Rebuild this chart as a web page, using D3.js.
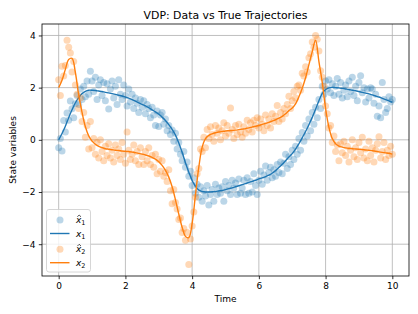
<!DOCTYPE html>
<html>
<head>
<meta charset="utf-8">
<script src="https://cdn.jsdelivr.net/npm/d3@7"></script>
<style>
  body { margin: 0; background: #fff; }
  svg { display: block; font-family: "DejaVu Sans", sans-serif; }
</style>
</head>
<body>
<div id="chart"></div>
<script>
// sampled observations, one every 0.05 time units (t = 0 .. 10)
const dtData = 0.05;
const x1Data = [
  -0.30, 0.05, -0.43, 0.74, 0.30, 1.03, 0.75, 1.49, 1.19, 0.85,
  1.38, 1.70, 1.35, 1.95, 1.55, 2.05, 1.65, 2.25, 1.75, 2.63,
  2.25, 1.85, 2.40, 1.55, 2.10, 2.30, 1.70, 2.20, 1.50, 2.15,
  1.18, 1.95, 2.25, 1.60, 2.05, 1.35, 2.30, 1.75, 1.55, 2.10,
  1.70, 1.30, 1.95, 1.45, 1.75, 1.20, 1.60, 1.40, 1.05, 1.55,
  1.25, 1.50, 1.00, 1.35, 1.20, 0.85, 1.25, 0.95, 0.55, 1.10,
  0.51, 0.95, 1.05, 0.60, 0.80, 0.35, 0.55, 0.20, 0.38, -0.05,
  0.25, -0.35, -0.10, -0.55, -0.80, -0.45, -1.05, -0.85, -1.40, -1.20,
  -1.75, -1.45, -2.05, -1.70, -2.20, -1.80, -2.35, -1.95, -2.15, -1.75,
  -2.50, -2.10, -1.90, -2.35, -1.70, -2.10, -1.85, -2.05, -1.80, -2.35,
  -1.60, -1.95, -1.75, -2.10, -1.55, -1.85, -1.65, -2.10, -1.50, -2.05,
  -1.85, -1.55, -2.10, -1.45, -2.05, -1.60, -2.00, -1.30, -1.75, -2.10,
  -1.55, -1.20, -1.70, -1.35, -1.00, -1.55, -1.25, -1.05, -1.45, -1.15,
  -1.40, -0.95, -1.25, -0.85, -1.30, -0.90, -0.55, -1.10, -0.65, -0.95,
  -0.40, -0.75, -0.25, -0.55, 0.05, -0.40, 0.28, -0.05, 0.55, 0.15,
  0.80, 0.35, 1.05, 0.60, 1.25, 0.85, 1.55, 1.20, 2.05, 1.75,
  2.25, 1.95, 2.30, 1.80, 2.15, 1.70, 2.05, 2.35, 1.75, 2.20,
  1.60, 1.90, 2.10, 1.65, 2.25, 1.85, 2.40, 1.70, 2.05, 1.50,
  2.20, 2.46, 1.80, 2.00, 1.45, 1.95, 1.60, 2.00, 1.95, 1.40,
  1.75, 0.90, 1.30, 0.85, 2.20, 1.55, 1.05, 1.20, 1.65, 1.45,
  1.55
];
const x2Data = [
  2.30, 1.70, 2.82, 2.45, 2.85, 3.82, 3.55, 3.33, 2.60, 3.00,
  2.10, 1.75, 1.20, 1.60, 0.70, 1.05, 0.10, 0.55, -0.35, 0.70,
  -0.30, 0.05, -0.55, -0.10, -0.70, 0.00, -0.45, -0.80, -0.25, -0.60,
  -0.15, -0.70, -0.40, -0.85, -0.20, -0.60, -0.35, -0.75, -0.10, -0.55,
  -0.90, 0.30, -0.40, -0.75, -0.55, -0.20, -0.80, -0.45, -0.95, -0.30,
  -0.65, -0.95, -0.45, -0.80, -0.30, -0.95, -0.60, -1.05, -0.55, -1.30,
  -0.75, -1.20, -0.80, -1.40, -1.25, -1.60, -1.15, -1.95, -2.45, -1.90,
  -2.40, -2.65, -3.05, -3.00, -3.55, -3.40, -3.85, -3.55, -4.78, -3.80,
  -3.30, -2.77, -2.20, -1.30, -1.10, -0.35, -0.45, 0.10, -0.30, 0.40,
  0.05, 0.50, 0.20, -0.05, 0.55, 0.25, 0.45, 0.00, 0.35, 0.65,
  0.15, 0.55, 0.25, 1.22, 0.40, 0.05, 0.55, 0.20, 0.60, 0.30,
  0.10, 0.50, 0.25, 0.75, 0.40, 0.65, 0.30, 0.75, 0.55, 0.85,
  0.45, 0.80, 0.60, 0.35, 0.95, 0.55, 0.80, 0.45, 1.00, 0.70,
  0.90, 1.32, 0.70, 1.05, 0.80, 1.20, 1.00, 1.35, 1.67, 1.20,
  1.50, 1.85, 1.60, 2.05, 2.10, 1.90, 2.55, 2.45, 2.80, 2.60,
  3.15, 3.30, 3.75, 3.55, 4.00, 3.85, 3.40, 2.65, 2.40, 2.05,
  1.30, 1.00, 0.45, 0.55, -0.10, 0.15, -0.45, -0.20, -0.80, -0.15,
  -0.50, -0.05, -0.60, -0.25, -0.85, -0.40, 0.00, -0.65, -0.30, -0.75,
  -0.10, -0.50, 0.10, -0.70, -0.35, -0.80, -0.05, -0.60, -0.30, -0.85,
  -0.40, -0.15, 0.12, -0.70, -0.45, -0.10, -0.75, -0.40, -0.60, -0.25,
  -0.55
];

// true trajectories, one value every 0.1 time units
const dtTrue = 0.1;
const x1True = [
  0.00, 0.24, 0.52, 0.85, 1.15, 1.42, 1.62, 1.77, 1.86, 1.90,
  1.90, 1.89, 1.87, 1.85, 1.82, 1.80, 1.77, 1.74, 1.71, 1.68,
  1.64, 1.60, 1.54, 1.48, 1.42, 1.36, 1.30, 1.23, 1.15, 1.07,
  0.98, 0.87, 0.74, 0.58, 0.40, 0.18, -0.12, -0.48, -0.88, -1.24,
  -1.56, -1.78, -1.93, -1.98, -2.00, -2.00, -1.99, -1.98, -1.96, -1.94,
  -1.91, -1.87, -1.84, -1.80, -1.76, -1.72, -1.68, -1.63, -1.59, -1.55,
  -1.50, -1.46, -1.41, -1.35, -1.28, -1.18, -1.06, -0.94, -0.80, -0.66,
  -0.53, -0.36, -0.15, 0.08, 0.32, 0.58, 0.86, 1.17, 1.50, 1.78,
  1.93, 1.99, 2.01, 2.00, 1.99, 1.97, 1.95, 1.93, 1.90, 1.88,
  1.85, 1.82, 1.79, 1.76, 1.72, 1.68, 1.64, 1.59, 1.54, 1.49,
  1.44
];
const x2True = [
  2.00, 2.28, 2.70, 3.08, 3.12, 2.58, 1.72, 1.05, 0.50, 0.15,
  -0.05, -0.17, -0.25, -0.30, -0.34, -0.36, -0.38, -0.40, -0.41, -0.43,
  -0.44, -0.45, -0.47, -0.49, -0.52, -0.55, -0.58, -0.62, -0.67, -0.74,
  -0.84, -0.98, -1.17, -1.43, -1.80, -2.30, -2.85, -3.35, -3.70, -3.75,
  -3.20, -2.10, -1.05, -0.28, 0.05, 0.17, 0.23, 0.27, 0.30, 0.32,
  0.34, 0.35, 0.36, 0.37, 0.39, 0.41, 0.43, 0.46, 0.49, 0.52,
  0.55, 0.59, 0.63, 0.67, 0.72, 0.77, 0.83, 0.90, 1.00, 1.12,
  1.22, 1.38, 1.65, 1.98, 2.38, 2.88, 3.38, 3.82, 3.00, 2.20,
  1.20, 0.48, 0.05, -0.15, -0.24, -0.28, -0.31, -0.33, -0.34, -0.35,
  -0.36, -0.37, -0.39, -0.40, -0.42, -0.44, -0.46, -0.48, -0.50, -0.52,
  -0.55
];

const xTicks = [0, 2, 4, 6, 8, 10];
const yTicks = [-4, -2, 0, 2, 4];
const chartTitle = "VDP: Data vs True Trajectories";

(() => {
  const width = 418, height = 314;
  const margin = {top: 24, right: 9, bottom: 38, left: 42};
  const blue = "#1f77b4", orange = "#ff7f0e";

  const svg = d3.select("#chart").append("svg")
    .attr("width", width)
    .attr("height", height);

  // turn value arrays into [t, v] pairs
  const withTime = (vals, dt) => vals.map((v, i) => [i * dt, v]);
  const obs1 = withTime(x1Data, dtData), obs2 = withTime(x2Data, dtData);
  const true1 = withTime(x1True, dtTrue), true2 = withTime(x2True, dtTrue);

  // matplotlib style 5% margins around the data
  const pad = ([a, b]) => [a - (b - a) * 0.05, b + (b - a) * 0.05];
  const allY = x1Data.concat(x2Data, x1True, x2True);
  const x = d3.scaleLinear().domain(pad([0, 10]))
    .range([margin.left, width - margin.right]);
  const y = d3.scaleLinear().domain(pad(d3.extent(allY)))
    .range([height - margin.bottom, margin.top]);

  // grid
  const grid = svg.append("g").attr("stroke", "#b0b0b0").attr("stroke-width", 0.8);
  grid.selectAll(".gx").data(xTicks).join("line")
    .attr("x1", d => x(d)).attr("x2", d => x(d))
    .attr("y1", margin.top).attr("y2", height - margin.bottom);
  grid.selectAll(".gy").data(yTicks).join("line")
    .attr("x1", margin.left).attr("x2", width - margin.right)
    .attr("y1", d => y(d)).attr("y2", d => y(d));

  // scatter of observations
  const drawDots = (data, color) => svg.append("g")
    .selectAll("circle").data(data).join("circle")
    .attr("cx", d => x(d[0]))
    .attr("cy", d => y(d[1]))
    .attr("r", 3.5)
    .attr("fill", color)
    .attr("fill-opacity", 0.3);
  drawDots(obs1, blue);

  const line = d3.line()
    .x(d => x(d[0])).y(d => y(d[1]))
    .curve(d3.curveCatmullRom.alpha(0.5));
  svg.append("path").datum(true1)
    .attr("d", line).attr("fill", "none")
    .attr("stroke", blue).attr("stroke-width", 1.4);

  drawDots(obs2, orange);
  svg.append("path").datum(true2)
    .attr("d", line).attr("fill", "none")
    .attr("stroke", orange).attr("stroke-width", 1.4);

  // axes
  const xAxis = svg.append("g")
    .attr("transform", `translate(0,${height - margin.bottom})`)
    .call(d3.axisBottom(x).tickValues(xTicks).tickSize(3.2).tickPadding(3.2));
  const yAxis = svg.append("g")
    .attr("transform", `translate(${margin.left},0)`)
    .call(d3.axisLeft(y).tickValues(yTicks).tickSize(3.2).tickPadding(3.2));
  [xAxis, yAxis].forEach(a => {
    a.select(".domain").remove();
    a.selectAll("line").attr("stroke", "#000").attr("stroke-width", 0.8);
    a.selectAll("text").attr("fill", "#000")
      .style("font-family", "DejaVu Sans").style("font-size", "9px");
  });

  // frame
  svg.append("rect")
    .attr("x", margin.left).attr("y", margin.top)
    .attr("width", width - margin.left - margin.right)
    .attr("height", height - margin.top - margin.bottom)
    .attr("fill", "none").attr("stroke", "#000").attr("stroke-width", 0.8);

  // titles
  svg.append("text")
    .attr("x", (margin.left + width - margin.right) / 2).attr("y", 18.5)
    .attr("text-anchor", "middle").style("font-size", "10.9px")
    .text(chartTitle);
  svg.append("text")
    .attr("x", (margin.left + width - margin.right) / 2).attr("y", 301.5)
    .attr("text-anchor", "middle").style("font-size", "9px")
    .text("Time");
  svg.append("text")
    .attr("transform", `translate(16,${(margin.top + height - margin.bottom) / 2}) rotate(-90)`)
    .attr("text-anchor", "middle").style("font-size", "9px")
    .text("State variables");

  // legend
  const legendItems = [
    {kind: "dot", color: blue, sub: "1", hat: true},
    {kind: "line", color: blue, sub: "1", hat: false},
    {kind: "dot", color: orange, sub: "2", hat: true},
    {kind: "line", color: orange, sub: "2", hat: false}
  ];
  const rowY = [220, 233.5, 249.3, 262.7];
  const legend = svg.append("g");
  legend.append("rect")
    .attr("x", 46.5).attr("y", 209.5).attr("width", 44).attr("height", 62.5)
    .attr("rx", 2.5)
    .attr("fill", "#fff").attr("fill-opacity", 0.8)
    .attr("stroke", "#cccccc").attr("stroke-width", 0.8);
  legendItems.forEach((it, i) => {
    const g = legend.append("g").attr("transform", `translate(0,${rowY[i]})`);
    if (it.kind === "dot") {
      g.append("circle").attr("cx", 60).attr("cy", 0).attr("r", 3.5)
        .attr("fill", it.color).attr("fill-opacity", 0.3);
    } else {
      g.append("line").attr("x1", 50).attr("x2", 69.5)
        .attr("stroke", it.color).attr("stroke-width", 1.4);
    }
    const t = g.append("text").attr("x", 76).attr("y", 3).style("font-size", "9px");
    t.append("tspan").style("font-style", "italic").text("x");
    t.append("tspan").attr("dy", 2).style("font-size", "6.5px").text(it.sub);
    if (it.hat) {
      // circumflex accent drawn as a small chevron over the x
      g.append("path")
        .attr("d", "M77.4,-3.2 L79.2,-5 L81,-3.2")
        .attr("fill", "none").attr("stroke", "#000").attr("stroke-width", 0.7);
    }
  });
})();
</script>
</body>
</html>
